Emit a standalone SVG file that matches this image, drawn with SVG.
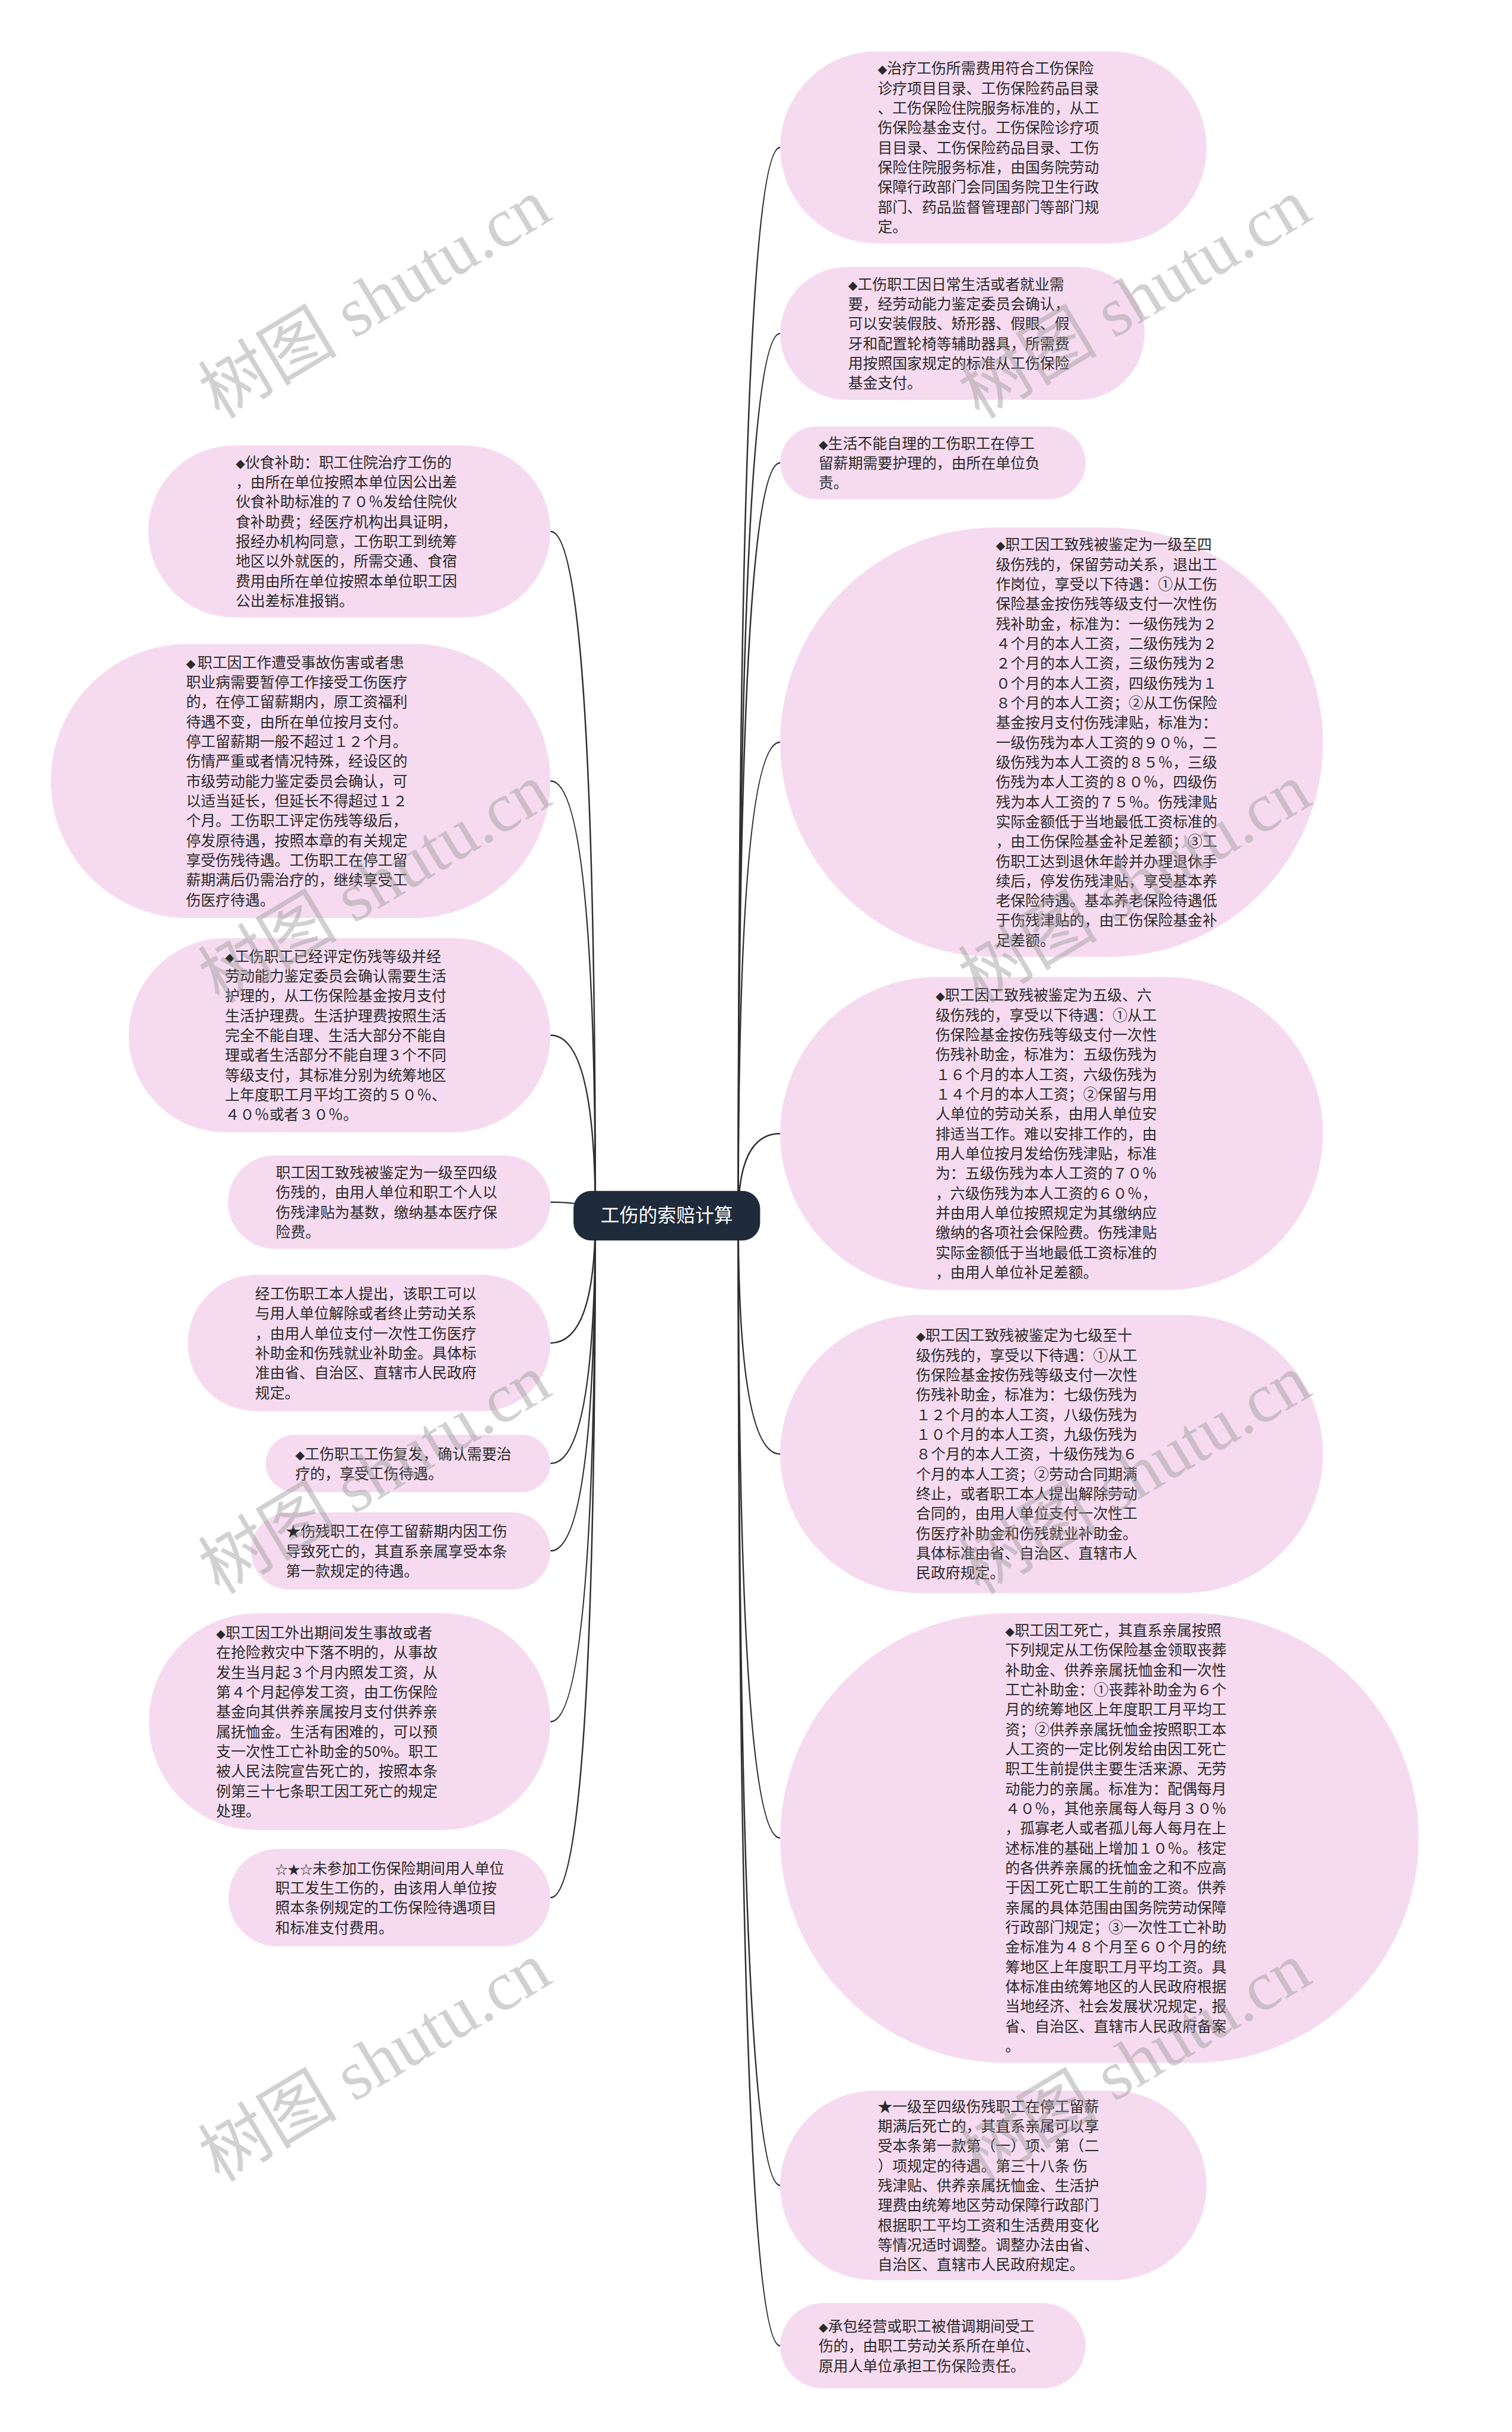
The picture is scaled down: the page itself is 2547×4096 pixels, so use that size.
<svg xmlns="http://www.w3.org/2000/svg" width="2547" height="4096" viewBox="0 0 2547 4096">
<style>
.bubble{fill:#f6dbf0}
.t{font-family:"Noto Sans CJK SC","Liberation Sans",sans-serif;font-size:25px;fill:#2a2a2a}
.d{font-size:16px}
.conn{fill:none;stroke:#2f2f2f;stroke-width:2.5}
.root{fill:#1f2b3a}
.rt{font-family:"Noto Sans CJK SC","Liberation Sans",sans-serif;font-size:32px;fill:#ffffff}
.wm{font-family:"Liberation Serif","Noto Sans CJK SC",serif;font-size:118px;fill:#9a9a9a;opacity:0.45}
</style>
<rect width="2547" height="4096" fill="#ffffff"/>
<g transform="scale(0.9949)">
<g id="connectors">
<path class="conn" d="M1250 2058 Q1250 249.5 1321 249.5"/>
<path class="conn" d="M1250 2058 Q1250 564.5 1321 564.5"/>
<path class="conn" d="M1250 2058 Q1250 783.5 1321 783.5"/>
<path class="conn" d="M1250 2058 Q1250 1256.5 1321 1256.5"/>
<path class="conn" d="M1250 2058 Q1250 1919 1321 1919"/>
<path class="conn" d="M1250 2058 Q1250 2461.5 1321 2461.5"/>
<path class="conn" d="M1250 2058 Q1250 3111.5 1321 3111.5"/>
<path class="conn" d="M1250 2058 Q1250 3699.5 1321 3699.5"/>
<path class="conn" d="M1250 2058 Q1250 3971 1321 3971"/>
<path class="conn" d="M1008 2058 Q1008 899.5 932 899.5"/>
<path class="conn" d="M1008 2058 Q1008 1322 932 1322"/>
<path class="conn" d="M1008 2058 Q1008 1752.5 932 1752.5"/>
<path class="conn" d="M1008 2058 Q1008 2035 932 2035"/>
<path class="conn" d="M1008 2058 Q1008 2273.5 932 2273.5"/>
<path class="conn" d="M1008 2058 Q1008 2477.5 932 2477.5"/>
<path class="conn" d="M1008 2058 Q1008 2625.5 932 2625.5"/>
<path class="conn" d="M1008 2058 Q1008 2914.5 932 2914.5"/>
<path class="conn" d="M1008 2058 Q1008 3212.5 932 3212.5"/>
</g>
<g id="root">
<rect class="root" x="971" y="2016" width="316" height="84" rx="30"/>
<text class="rt" x="1129" y="2069" text-anchor="middle">工伤的索赔计算</text>
</g>
<g id="r1">
<rect class="bubble" x="1321" y="87" width="722" height="325" rx="162.5"/>
<text class="t" x="1486" y="125"><tspan class="d">◆</tspan>治疗工伤所需费用符合工伤保险<tspan x="1486" dy="33.5">诊疗项目目录、工伤保险药品目录</tspan><tspan x="1486" dy="33.5">、工伤保险住院服务标准的，从工</tspan><tspan x="1486" dy="33.5">伤保险基金支付。工伤保险诊疗项</tspan><tspan x="1486" dy="33.5">目目录、工伤保险药品目录、工伤</tspan><tspan x="1486" dy="33.5">保险住院服务标准，由国务院劳动</tspan><tspan x="1486" dy="33.5">保障行政部门会同国务院卫生行政</tspan><tspan x="1486" dy="33.5">部门、药品监督管理部门等部门规</tspan><tspan x="1486" dy="33.5">定。</tspan></text>
</g>
<g id="r2">
<rect class="bubble" x="1321" y="452" width="617" height="225" rx="112.5"/>
<text class="t" x="1436" y="490.25"><tspan class="d">◆</tspan>工伤职工因日常生活或者就业需<tspan x="1436" dy="33.5">要，经劳动能力鉴定委员会确认，</tspan><tspan x="1436" dy="33.5">可以安装假肢、矫形器、假眼、假</tspan><tspan x="1436" dy="33.5">牙和配置轮椅等辅助器具，所需费</tspan><tspan x="1436" dy="33.5">用按照国家规定的标准从工伤保险</tspan><tspan x="1436" dy="33.5">基金支付。</tspan></text>
</g>
<g id="r3">
<rect class="bubble" x="1321" y="722" width="517" height="123" rx="61.5"/>
<text class="t" x="1386" y="759.5"><tspan class="d">◆</tspan>生活不能自理的工伤职工在停工<tspan x="1386" dy="33.5">留薪期需要护理的，由所在单位负</tspan><tspan x="1386" dy="33.5">责。</tspan></text>
</g>
<g id="r4">
<rect class="bubble" x="1321" y="893" width="919" height="727" rx="363.5"/>
<text class="t" x="1686" y="931"><tspan class="d">◆</tspan>职工因工致残被鉴定为一级至四<tspan x="1686" dy="33.5">级伤残的，保留劳动关系，退出工</tspan><tspan x="1686" dy="33.5">作岗位，享受以下待遇：①从工伤</tspan><tspan x="1686" dy="33.5">保险基金按伤残等级支付一次性伤</tspan><tspan x="1686" dy="33.5">残补助金，标准为：一级伤残为２</tspan><tspan x="1686" dy="33.5">４个月的本人工资，二级伤残为２</tspan><tspan x="1686" dy="33.5">２个月的本人工资，三级伤残为２</tspan><tspan x="1686" dy="33.5">０个月的本人工资，四级伤残为１</tspan><tspan x="1686" dy="33.5">８个月的本人工资；②从工伤保险</tspan><tspan x="1686" dy="33.5">基金按月支付伤残津贴，标准为：</tspan><tspan x="1686" dy="33.5">一级伤残为本人工资的９０％，二</tspan><tspan x="1686" dy="33.5">级伤残为本人工资的８５％，三级</tspan><tspan x="1686" dy="33.5">伤残为本人工资的８０％，四级伤</tspan><tspan x="1686" dy="33.5">残为本人工资的７５％。伤残津贴</tspan><tspan x="1686" dy="33.5">实际金额低于当地最低工资标准的</tspan><tspan x="1686" dy="33.5">，由工伤保险基金补足差额；③工</tspan><tspan x="1686" dy="33.5">伤职工达到退休年龄并办理退休手</tspan><tspan x="1686" dy="33.5">续后，停发伤残津贴，享受基本养</tspan><tspan x="1686" dy="33.5">老保险待遇。基本养老保险待遇低</tspan><tspan x="1686" dy="33.5">于伤残津贴的，由工伤保险基金补</tspan><tspan x="1686" dy="33.5">足差额。</tspan></text>
</g>
<g id="r5">
<rect class="bubble" x="1321" y="1654" width="919" height="530" rx="265"/>
<text class="t" x="1584" y="1694"><tspan class="d">◆</tspan>职工因工致残被鉴定为五级、六<tspan x="1584" dy="33.5">级伤残的，享受以下待遇：①从工</tspan><tspan x="1584" dy="33.5">伤保险基金按伤残等级支付一次性</tspan><tspan x="1584" dy="33.5">伤残补助金，标准为：五级伤残为</tspan><tspan x="1584" dy="33.5">１６个月的本人工资，六级伤残为</tspan><tspan x="1584" dy="33.5">１４个月的本人工资；②保留与用</tspan><tspan x="1584" dy="33.5">人单位的劳动关系，由用人单位安</tspan><tspan x="1584" dy="33.5">排适当工作。难以安排工作的，由</tspan><tspan x="1584" dy="33.5">用人单位按月发给伤残津贴，标准</tspan><tspan x="1584" dy="33.5">为：五级伤残为本人工资的７０％</tspan><tspan x="1584" dy="33.5">，六级伤残为本人工资的６０％，</tspan><tspan x="1584" dy="33.5">并由用人单位按照规定为其缴纳应</tspan><tspan x="1584" dy="33.5">缴纳的各项社会保险费。伤残津贴</tspan><tspan x="1584" dy="33.5">实际金额低于当地最低工资标准的</tspan><tspan x="1584" dy="33.5">，由用人单位补足差额。</tspan></text>
</g>
<g id="r6">
<rect class="bubble" x="1321" y="2226" width="919" height="471" rx="235.5"/>
<text class="t" x="1551" y="2270"><tspan class="d">◆</tspan>职工因工致残被鉴定为七级至十<tspan x="1551" dy="33.5">级伤残的，享受以下待遇：①从工</tspan><tspan x="1551" dy="33.5">伤保险基金按伤残等级支付一次性</tspan><tspan x="1551" dy="33.5">伤残补助金，标准为：七级伤残为</tspan><tspan x="1551" dy="33.5">１２个月的本人工资，八级伤残为</tspan><tspan x="1551" dy="33.5">１０个月的本人工资，九级伤残为</tspan><tspan x="1551" dy="33.5">８个月的本人工资，十级伤残为６</tspan><tspan x="1551" dy="33.5">个月的本人工资；②劳动合同期满</tspan><tspan x="1551" dy="33.5">终止，或者职工本人提出解除劳动</tspan><tspan x="1551" dy="33.5">合同的，由用人单位支付一次性工</tspan><tspan x="1551" dy="33.5">伤医疗补助金和伤残就业补助金。</tspan><tspan x="1551" dy="33.5">具体标准由省、自治区、直辖市人</tspan><tspan x="1551" dy="33.5">民政府规定。</tspan></text>
</g>
<g id="r7">
<rect class="bubble" x="1321" y="2731" width="1081" height="761" rx="380.5"/>
<text class="t" x="1702" y="2769.25"><tspan class="d">◆</tspan>职工因工死亡，其直系亲属按照<tspan x="1702" dy="33.5">下列规定从工伤保险基金领取丧葬</tspan><tspan x="1702" dy="33.5">补助金、供养亲属抚恤金和一次性</tspan><tspan x="1702" dy="33.5">工亡补助金：①丧葬补助金为６个</tspan><tspan x="1702" dy="33.5">月的统筹地区上年度职工月平均工</tspan><tspan x="1702" dy="33.5">资；②供养亲属抚恤金按照职工本</tspan><tspan x="1702" dy="33.5">人工资的一定比例发给由因工死亡</tspan><tspan x="1702" dy="33.5">职工生前提供主要生活来源、无劳</tspan><tspan x="1702" dy="33.5">动能力的亲属。标准为：配偶每月</tspan><tspan x="1702" dy="33.5">４０％，其他亲属每人每月３０％</tspan><tspan x="1702" dy="33.5">，孤寡老人或者孤儿每人每月在上</tspan><tspan x="1702" dy="33.5">述标准的基础上增加１０％。核定</tspan><tspan x="1702" dy="33.5">的各供养亲属的抚恤金之和不应高</tspan><tspan x="1702" dy="33.5">于因工死亡职工生前的工资。供养</tspan><tspan x="1702" dy="33.5">亲属的具体范围由国务院劳动保障</tspan><tspan x="1702" dy="33.5">行政部门规定；③一次性工亡补助</tspan><tspan x="1702" dy="33.5">金标准为４８个月至６０个月的统</tspan><tspan x="1702" dy="33.5">筹地区上年度职工月平均工资。具</tspan><tspan x="1702" dy="33.5">体标准由统筹地区的人民政府根据</tspan><tspan x="1702" dy="33.5">当地经济、社会发展状况规定，报</tspan><tspan x="1702" dy="33.5">省、自治区、直辖市人民政府备案</tspan><tspan x="1702" dy="33.5">。</tspan></text>
</g>
<g id="r8">
<rect class="bubble" x="1321" y="3539" width="722" height="321" rx="160.5"/>
<text class="t" x="1486" y="3575">★一级至四级伤残职工在停工留薪<tspan x="1486" dy="33.5">期满后死亡的，其直系亲属可以享</tspan><tspan x="1486" dy="33.5">受本条第一款第（一）项、第（二</tspan><tspan x="1486" dy="33.5">）项规定的待遇。第三十八条 伤</tspan><tspan x="1486" dy="33.5">残津贴、供养亲属抚恤金、生活护</tspan><tspan x="1486" dy="33.5">理费由统筹地区劳动保障行政部门</tspan><tspan x="1486" dy="33.5">根据职工平均工资和生活费用变化</tspan><tspan x="1486" dy="33.5">等情况适时调整。调整办法由省、</tspan><tspan x="1486" dy="33.5">自治区、直辖市人民政府规定。</tspan></text>
</g>
<g id="r9">
<rect class="bubble" x="1321" y="3899" width="517" height="144" rx="72"/>
<text class="t" x="1386" y="3947"><tspan class="d">◆</tspan>承包经营或职工被借调期间受工<tspan x="1386" dy="33.5">伤的，由职工劳动关系所在单位、</tspan><tspan x="1386" dy="33.5">原用人单位承担工伤保险责任。</tspan></text>
</g>
<g id="l1">
<rect class="bubble" x="251" y="754" width="681" height="291" rx="145.5"/>
<text class="t" x="399" y="791.75"><tspan class="d">◆</tspan>伙食补助：职工住院治疗工伤的<tspan x="399" dy="33.5">，由所在单位按照本单位因公出差</tspan><tspan x="399" dy="33.5">伙食补助标准的７０％发给住院伙</tspan><tspan x="399" dy="33.5">食补助费；经医疗机构出具证明，</tspan><tspan x="399" dy="33.5">报经办机构同意，工伤职工到统筹</tspan><tspan x="399" dy="33.5">地区以外就医的，所需交通、食宿</tspan><tspan x="399" dy="33.5">费用由所在单位按照本单位职工因</tspan><tspan x="399" dy="33.5">公出差标准报销。</tspan></text>
</g>
<g id="l2">
<rect class="bubble" x="86" y="1090" width="846" height="464" rx="232"/>
<text class="t" x="315" y="1130.5"><tspan class="d">◆ </tspan>职工因工作遭受事故伤害或者患<tspan x="315" dy="33.5">职业病需要暂停工作接受工伤医疗</tspan><tspan x="315" dy="33.5">的，在停工留薪期内，原工资福利</tspan><tspan x="315" dy="33.5">待遇不变，由所在单位按月支付。</tspan><tspan x="315" dy="33.5">停工留薪期一般不超过１２个月。</tspan><tspan x="315" dy="33.5">伤情严重或者情况特殊，经设区的</tspan><tspan x="315" dy="33.5">市级劳动能力鉴定委员会确认，可</tspan><tspan x="315" dy="33.5">以适当延长，但延长不得超过１２</tspan><tspan x="315" dy="33.5">个月。工伤职工评定伤残等级后，</tspan><tspan x="315" dy="33.5">停发原待遇，按照本章的有关规定</tspan><tspan x="315" dy="33.5">享受伤残待遇。工伤职工在停工留</tspan><tspan x="315" dy="33.5">薪期满后仍需治疗的，继续享受工</tspan><tspan x="315" dy="33.5">伤医疗待遇。</tspan></text>
</g>
<g id="l3">
<rect class="bubble" x="218" y="1588" width="714" height="329" rx="164.5"/>
<text class="t" x="381" y="1628"><tspan class="d">◆</tspan>工伤职工已经评定伤残等级并经<tspan x="381" dy="33.5">劳动能力鉴定委员会确认需要生活</tspan><tspan x="381" dy="33.5">护理的，从工伤保险基金按月支付</tspan><tspan x="381" dy="33.5">生活护理费。生活护理费按照生活</tspan><tspan x="381" dy="33.5">完全不能自理、生活大部分不能自</tspan><tspan x="381" dy="33.5">理或者生活部分不能自理３个不同</tspan><tspan x="381" dy="33.5">等级支付，其标准分别为统筹地区</tspan><tspan x="381" dy="33.5">上年度职工月平均工资的５０％、</tspan><tspan x="381" dy="33.5">４０％或者３０％。</tspan></text>
</g>
<g id="l4">
<rect class="bubble" x="386" y="1956" width="546" height="158" rx="79"/>
<text class="t" x="467" y="1994.25">职工因工致残被鉴定为一级至四级<tspan x="467" dy="33.5">伤残的，由用人单位和职工个人以</tspan><tspan x="467" dy="33.5">伤残津贴为基数，缴纳基本医疗保</tspan><tspan x="467" dy="33.5">险费。</tspan></text>
</g>
<g id="l5">
<rect class="bubble" x="318" y="2158" width="614" height="231" rx="115.5"/>
<text class="t" x="432" y="2199.25">经工伤职工本人提出，该职工可以<tspan x="432" dy="33.5">与用人单位解除或者终止劳动关系</tspan><tspan x="432" dy="33.5">，由用人单位支付一次性工伤医疗</tspan><tspan x="432" dy="33.5">补助金和伤残就业补助金。具体标</tspan><tspan x="432" dy="33.5">准由省、自治区、直辖市人民政府</tspan><tspan x="432" dy="33.5">规定。</tspan></text>
</g>
<g id="l6">
<rect class="bubble" x="450" y="2429" width="482" height="97" rx="48.5"/>
<text class="t" x="500" y="2470.25"><tspan class="d">◆</tspan>工伤职工工伤复发，确认需要治<tspan x="500" dy="33.5">疗的，享受工伤待遇。</tspan></text>
</g>
<g id="l7">
<rect class="bubble" x="425" y="2560" width="507" height="131" rx="65.5"/>
<text class="t" x="484" y="2601.5">★伤残职工在停工留薪期内因工伤<tspan x="484" dy="33.5">导致死亡的，其直系亲属享受本条</tspan><tspan x="484" dy="33.5">第一款规定的待遇。</tspan></text>
</g>
<g id="l8">
<rect class="bubble" x="252" y="2731" width="680" height="367" rx="183.5"/>
<text class="t" x="366" y="2773.25"><tspan class="d">◆</tspan>职工因工外出期间发生事故或者<tspan x="366" dy="33.5">在抢险救灾中下落不明的，从事故</tspan><tspan x="366" dy="33.5">发生当月起３个月内照发工资，从</tspan><tspan x="366" dy="33.5">第４个月起停发工资，由工伤保险</tspan><tspan x="366" dy="33.5">基金向其供养亲属按月支付供养亲</tspan><tspan x="366" dy="33.5">属抚恤金。生活有困难的，可以预</tspan><tspan x="366" dy="33.5">支一次性工亡补助金的50%。职工</tspan><tspan x="366" dy="33.5">被人民法院宣告死亡的，按照本条</tspan><tspan x="366" dy="33.5">例第三十七条职工因工死亡的规定</tspan><tspan x="366" dy="33.5">处理。</tspan></text>
</g>
<g id="l9">
<rect class="bubble" x="387" y="3130" width="545" height="165" rx="82.5"/>
<text class="t" x="466" y="3171.75"><tspan style="font-size:21px">☆★☆</tspan>未参加工伤保险期间用人单位<tspan x="466" dy="33.5">职工发生工伤的，由该用人单位按</tspan><tspan x="466" dy="33.5">照本条例规定的工伤保险待遇项目</tspan><tspan x="466" dy="33.5">和标准支付费用。</tspan></text>
</g>
<g id="watermarks">
<text class="wm" transform="translate(655 540) rotate(-31)" text-anchor="middle">树图 shutu.cn</text>
<text class="wm" transform="translate(1942 540) rotate(-31)" text-anchor="middle">树图 shutu.cn</text>
<text class="wm" transform="translate(655 1530) rotate(-31)" text-anchor="middle">树图 shutu.cn</text>
<text class="wm" transform="translate(1942 1530) rotate(-31)" text-anchor="middle">树图 shutu.cn</text>
<text class="wm" transform="translate(655 2530) rotate(-31)" text-anchor="middle">树图 shutu.cn</text>
<text class="wm" transform="translate(1942 2530) rotate(-31)" text-anchor="middle">树图 shutu.cn</text>
<text class="wm" transform="translate(655 3525) rotate(-31)" text-anchor="middle">树图 shutu.cn</text>
<text class="wm" transform="translate(1942 3525) rotate(-31)" text-anchor="middle">树图 shutu.cn</text>
</g>
</g>
</svg>
